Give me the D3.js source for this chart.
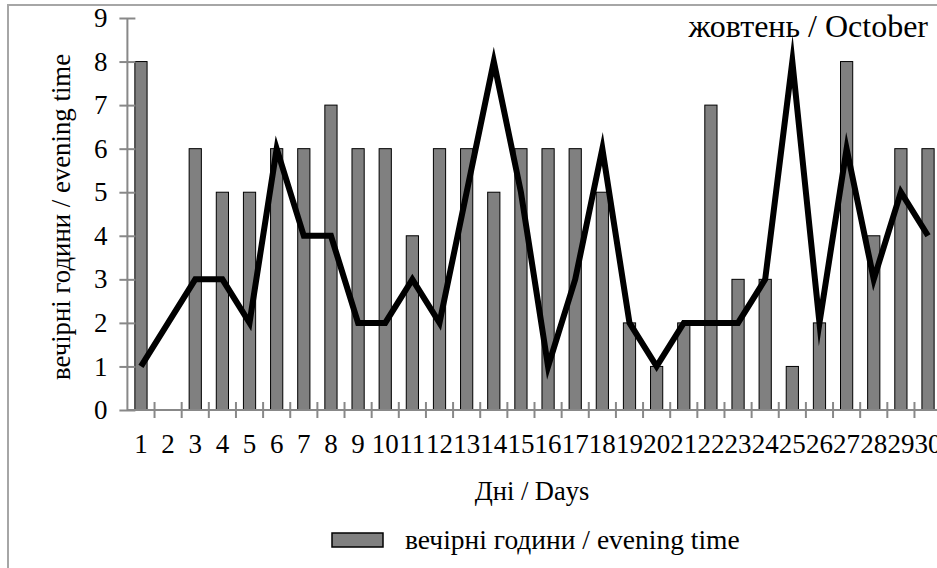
<!DOCTYPE html>
<html>
<head>
<meta charset="utf-8">
<script src="https://cdn.jsdelivr.net/npm/d3@7"></script>
<style>
  body { margin: 0; background: #fff; }
</style>
</head>
<body>
<div id="chart"></div>
<script>
// days of October
let days = d3.range(1, 31).map(String);
// bars: evening hours
let barValues = [8, 0, 6, 5, 5, 6, 6, 7, 6, 6, 4, 6, 6, 5, 6, 6, 6, 5, 2, 1, 2, 7, 3, 3, 1, 2, 8, 4, 6, 6];
// black line
let lineValues = [1, 2, 3, 3, 2, 6, 4, 4, 2, 2, 3, 2, 5, 8, 5, 1, 3, 6, 2, 1, 2, 2, 2, 3, 8, 2, 6, 3, 5, 4];
let yTicks = [0, 1, 2, 3, 4, 5, 6, 7, 8, 9];

let width = 937,
  height = 568;
let serif = 'Liberation Serif';

let svg = d3.select('#chart')
  .append('svg')
  .attr('width', width)
  .attr('height', height)
  .attr('font-family', serif);

// outer frame (only top + left visible, rest is cut off)
svg.append('rect')
  .attr('x', 8).attr('y', 5)
  .attr('width', 960).attr('height', 600)
  .attr('fill', 'none')
  .attr('stroke', '#a6a6a6')
  .attr('stroke-width', 2);

// plot area
let plotLeft = 127.4, plotRight = 941.6, plotTop = 18, plotBottom = 410;

let x = d3.scaleBand().domain(days).range([plotLeft, plotRight]);
let y = d3.scaleLinear().domain([0, 9]).range([plotBottom, plotTop]);
let barW = x.bandwidth() * 0.45;

// bars (day 2 has no bar)
svg.append('g')
  .selectAll('rect')
  .data(days.map((d, i) => ({ day: d, v: barValues[i] })).filter(d => d.v > 0))
  .enter()
  .append('rect')
  .attr('x', d => x(d.day) + (x.bandwidth() - barW) / 2)
  .attr('y', d => y(d.v))
  .attr('width', barW)
  .attr('height', d => y(0) - y(d.v))
  .attr('fill', '#808080')
  .attr('stroke', '#000')
  .attr('stroke-width', 1);

// y axis
let yAxis = d3.axisLeft(y).tickValues(yTicks).tickSize(8).tickPadding(12);
let gy = svg.append('g')
  .attr('transform', 'translate(' + plotLeft + ',0)')
  .call(yAxis)
  .attr('font-family', serif)
  .attr('font-size', 27);
gy.select('.domain').attr('stroke', '#888').attr('stroke-width', 2).attr('d', 'M0,' + plotTop + 'V' + plotBottom);
gy.selectAll('.tick line').attr('x1', -8).attr('x2', 8).attr('stroke', '#888').attr('stroke-width', 2);
gy.selectAll('.tick text').attr('fill', '#000');

// x axis
let xAxis = d3.axisBottom(x).tickSize(0).tickPadding(24);
let gx = svg.append('g')
  .attr('transform', 'translate(0,' + plotBottom + ')')
  .call(xAxis)
  .attr('font-family', serif)
  .attr('font-size', 27);
gx.select('.domain').attr('stroke', '#888').attr('stroke-width', 2).attr('d', 'M' + plotLeft + ',0H' + plotRight);
gx.selectAll('.tick text').attr('fill', '#000');
// boundary ticks between days
gx.selectAll('.bound')
  .data(days.slice(1))
  .enter()
  .append('line')
  .attr('x1', d => x(d)).attr('x2', d => x(d))
  .attr('y1', -8).attr('y2', 8)
  .attr('stroke', '#888').attr('stroke-width', 2);

// line
let line = d3.line()
  .x((d, i) => x(days[i]) + x.bandwidth() / 2)
  .y(d => y(d));
svg.append('path')
  .datum(lineValues)
  .attr('d', line)
  .attr('fill', 'none')
  .attr('stroke', '#000')
  .attr('stroke-width', 6)
  .attr('stroke-linejoin', 'miter')
  .attr('stroke-miterlimit', 10);

// titles
svg.append('text')
  .attr('x', 928).attr('y', 37)
  .attr('text-anchor', 'end')
  .attr('font-size', 32)
  .text('жовтень / October');

svg.append('text')
  .attr('transform', 'translate(70,217) rotate(-90)')
  .attr('text-anchor', 'middle')
  .attr('font-size', 26.8)
  .text('вечірні години / evening time');

svg.append('text')
  .attr('x', 532).attr('y', 500)
  .attr('text-anchor', 'middle')
  .attr('font-size', 26.5)
  .text('Дні / Days');

// legend
svg.append('rect')
  .attr('x', 332).attr('y', 533)
  .attr('width', 51).attr('height', 14)
  .attr('fill', '#808080')
  .attr('stroke', '#000')
  .attr('stroke-width', 1.5);
svg.append('text')
  .attr('x', 405).attr('y', 549)
  .attr('font-size', 27.5)
  .text('вечірні години / evening time');
</script>
</body>
</html>
